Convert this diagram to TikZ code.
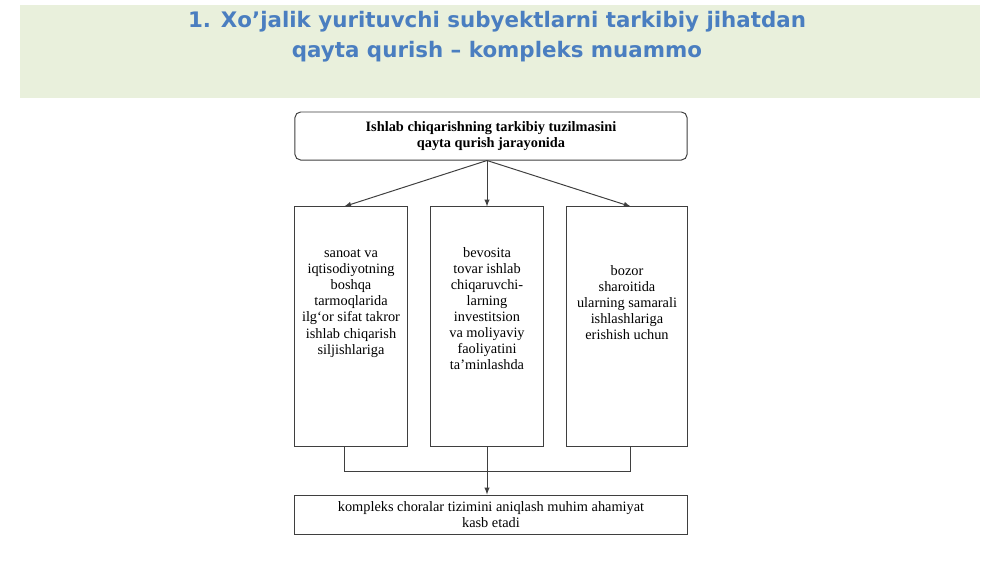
\documentclass[tikz,border=0pt]{standalone}
\usepackage{fontspec}
\setmainfont{Liberation Serif}
\newfontfamily\titlefont{DejaVu Sans}
\usetikzlibrary{calc}

\begin{document}
\begin{tikzpicture}[x=0.025cm,y=-0.025cm,>=latex,
  topbox/.style={draw=boxgrey,line width=0.7pt,rounded corners=4pt,minimum width=9.8cm,minimum height=1.2cm,align=center,font=\fontsize{10.2}{11.6}\selectfont\bfseries},
  tallbox/.style={draw=boxgrey,line width=0.7pt,inner sep=0pt,font=\fontsize{10.2}{11.4}\selectfont},
  endbox/.style={draw=boxgrey,line width=0.7pt,minimum width=9.8cm,minimum height=0.975cm,align=center,font=\fontsize{10.2}{11.4}\selectfont},
  link/.style={draw=boxgrey,line width=0.7pt}]
\definecolor{boxgrey}{HTML}{3F3F3F}
\definecolor{bannergreen}{HTML}{E9F0DC}
\definecolor{titleblue}{HTML}{4A7EC0}
\useasboundingbox (0,0) rectangle (1000,562);
\fill[bannergreen] (20,5) rectangle (980,98);
\node[text=titleblue,align=center,font=\titlefont\fontsize{15.2}{21.3}\selectfont\bfseries] (title) at (497,37)
  {1. Xo’jalik yurituvchi subyektlarni tarkibiy jihatdan\\qayta qurish – kompleks muammo};
\node[topbox] (top) at (491,136) {Ishlab chiqarishning tarkibiy tuzilmasini\\qayta qurish jarayonida};
  \foreach \nm/\xc/\bw/\sk/\txt in {lbox/351/2.8/1.07/{sanoat va\\iqtisodiyotning\\boshqa\\tarmoqlarida\\ilg‘or sifat takror\\ishlab chiqarish\\siljishlariga},
    mbox/487/2.8/1.02/{bevosita\\tovar ishlab\\chiqaruvchi-\\larning\\investitsion\\va moliyaviy\\faoliyatini\\ta’minlashda},
    rbox/627/3.0/1.47/{bozor\\sharoitida\\ularning samarali\\ishlashlariga\\erishish uchun}}
  {  \node [tallbox] (\nm) at (\xc,326.5) {\parbox[c][5.975cm][t]{\bw cm}{\centering\vspace{\sk cm}\txt}};}
\node[endbox] (bot) at (491,514.5) {kompleks choralar tizimini aniqlash muhim ahamiyat\\kasb etadi};
\coordinate (fork) at (top.south -| mbox.north);
\draw[link,->] (fork) -- ($(lbox.north west)!0.44!(lbox.north east)$);
\draw[link,->] (fork) -- (mbox.north);
\draw[link,->] (fork) -- ($(rbox.north west)!0.53!(rbox.north east)$);
\coordinate (join) at (487,471);
\draw[link] ($(lbox.south west)!0.44!(lbox.south east)$) |- (join) -| ($(rbox.south west)!0.53!(rbox.south east)$);
\draw[link,->] (mbox.south) -- (bot.north -| mbox.south);
\end{tikzpicture}
\end{document}
